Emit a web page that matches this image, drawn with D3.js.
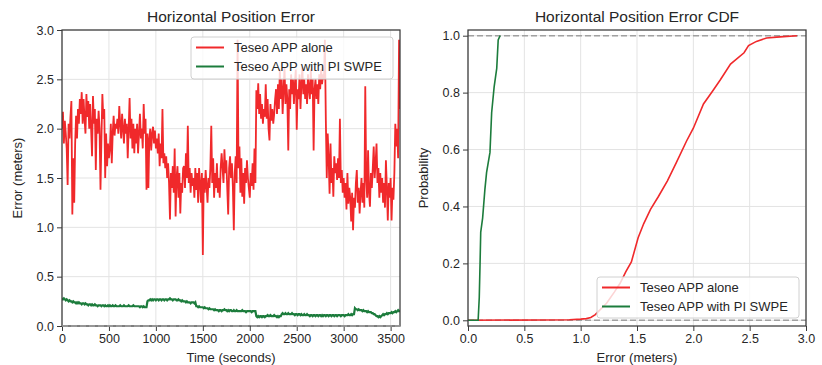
<!DOCTYPE html>
<html>
<head>
<meta charset="utf-8">
<script src="https://cdn.jsdelivr.net/npm/d3@7"></script>
<style>
  body { margin: 0; background: #fff; }
  svg text { font-family: "Liberation Sans", Arial, Helvetica, sans-serif; fill: #262626; }
</style>
</head>
<body>
<svg id="chart" width="822" height="365"></svg>
<script>
// ---- data -------------------------------------------------------------
const sampleStepSeconds = 10;

// Horizontal error, Teseo APP alone (metres), one value every 10 s from 0 to 3600 s
const errorAlone = [
  2.0, 2.17, 1.85, 2.08, 1.95, 1.8, 1.43, 2.05, 1.9, 2.12,
  2.28, 1.13, 1.7, 1.25, 1.85, 2.13, 1.9, 2.2, 2.05, 2.3,
  2.15, 2.37, 2.05, 2.3, 2.1, 1.95, 2.35, 2.12, 2.28, 2.0,
  2.25, 2.0, 1.72, 2.33, 2.05, 2.2, 1.58, 2.1, 1.95, 2.18,
  2.0, 1.38, 1.9, 2.35, 2.1, 2.2, 1.5, 1.95, 1.62, 1.85,
  1.7, 1.8, 2.05, 1.65, 1.95, 2.13, 1.93, 2.05, 2.0, 2.1,
  1.95, 2.23, 2.05, 1.9, 2.15, 2.0, 1.85, 2.1, 1.95, 2.05,
  1.7, 2.0, 2.31, 1.9, 2.1, 1.8, 2.05, 1.75, 2.0, 1.85,
  2.05, 1.75, 1.95, 2.15, 1.9, 2.0, 1.8, 2.25, 1.95, 2.1,
  1.38, 1.95, 1.4, 1.9, 2.0, 1.78, 1.95, 2.02, 1.85, 1.98,
  1.8, 1.9, 1.75, 1.95, 1.62, 1.85, 1.7, 2.2, 1.65, 1.75,
  1.6, 1.72, 1.5, 1.65, 1.45, 1.08, 1.55, 1.4, 1.62, 1.35,
  1.8, 1.11, 1.5, 1.62, 1.3, 1.55, 1.14, 1.45, 1.35, 1.6,
  1.62, 1.4, 1.75, 1.5, 2.03, 1.45, 1.6, 1.35, 1.55, 1.42,
  1.5, 1.3, 1.6, 1.38, 1.55, 1.25, 1.6, 1.45, 1.25, 1.55,
  0.72, 1.5, 1.35, 1.58, 1.42, 1.25, 1.5, 1.4, 1.6, 2.03,
  1.45, 1.7, 1.3, 1.55, 1.4, 1.65, 1.35, 1.5, 1.3, 1.6,
  1.75, 1.6, 1.45, 1.79, 1.55, 1.68, 1.4, 1.13, 1.6, 1.72,
  1.5, 1.65, 1.41, 0.97, 1.55, 1.72, 1.45, 2.9, 1.6, 1.82,
  1.35, 1.7, 1.31, 1.55, 1.24, 1.6, 1.45, 1.68, 1.5, 1.4,
  1.3, 1.55, 1.42, 1.65, 1.38, 1.8, 1.45, 2.39, 2.2, 2.46,
  2.15, 2.35, 2.1, 2.25, 2.05, 2.2, 2.12, 2.45, 2.1, 2.3,
  2.0, 1.88, 2.25, 2.08, 2.2, 2.05, 2.15, 2.3, 2.4, 2.15,
  2.45, 2.2, 2.6, 2.3, 2.5, 2.15, 2.4, 2.62, 2.25, 2.45,
  2.3, 1.78, 2.4, 2.2, 2.55, 2.35, 2.5, 2.25, 2.45, 2.6,
  1.99, 2.4, 2.3, 2.55, 2.2, 2.45, 2.62, 2.35, 2.5, 2.3,
  2.45, 2.25, 2.55, 2.4, 2.3, 2.6, 2.35, 2.5, 1.78, 2.4,
  2.5, 2.3, 2.45, 2.25, 2.55, 2.4, 2.6, 2.45, 2.55, 2.5,
  2.9, 2.09, 1.5, 1.95, 1.7, 1.34, 1.85, 1.45, 1.6, 1.31,
  1.72, 1.55, 1.65, 1.48, 1.7, 1.5, 2.1, 1.45, 1.58, 1.35,
  1.5, 1.3, 1.45, 1.18, 1.55, 1.24, 1.4, 1.3, 1.06, 1.35,
  0.97, 1.3, 1.2, 1.45, 1.58, 1.25, 1.4, 1.14, 1.35, 1.5,
  1.25, 1.45, 1.2, 2.43, 1.5, 1.3, 1.78, 1.35, 1.21, 1.55,
  1.4, 1.6, 1.82, 1.5, 1.65, 1.85, 1.45, 1.6, 1.3, 1.55,
  1.35, 1.5, 1.25, 1.45, 1.2, 1.68, 1.4, 1.07, 1.45, 1.3,
  1.5, 1.07, 1.4, 1.28, 1.55, 2.05, 1.82, 2.0, 1.7, 2.9,
  2.2
];

// Horizontal error, Teseo APP with PI SWPE (metres), same time base
const errorSwpe = [
  0.28, 0.27, 0.28, 0.27, 0.26, 0.27, 0.26, 0.25, 0.26, 0.25,
  0.25, 0.24, 0.25, 0.24, 0.24, 0.23, 0.24, 0.23, 0.24, 0.23,
  0.23, 0.22, 0.23, 0.23, 0.22, 0.23, 0.22, 0.22, 0.21, 0.22,
  0.22, 0.21, 0.22, 0.21, 0.21, 0.22, 0.21, 0.21, 0.20, 0.21,
  0.21, 0.21, 0.20, 0.21, 0.21, 0.20, 0.21, 0.20, 0.20, 0.21,
  0.20, 0.21, 0.20, 0.20, 0.21, 0.20, 0.20, 0.21, 0.20, 0.20,
  0.20, 0.20, 0.21, 0.20, 0.20, 0.20, 0.21, 0.20, 0.20, 0.20,
  0.20, 0.21, 0.20, 0.20, 0.20, 0.20, 0.21, 0.20, 0.20, 0.20,
  0.20, 0.20, 0.20, 0.19, 0.20, 0.20, 0.19, 0.20, 0.19, 0.19,
  0.19, 0.25, 0.26, 0.26, 0.27, 0.26, 0.27, 0.26, 0.27, 0.27,
  0.26, 0.27, 0.27, 0.26, 0.27, 0.27, 0.26, 0.27, 0.27, 0.26,
  0.27, 0.27, 0.26, 0.27, 0.27, 0.28, 0.27, 0.27, 0.26, 0.27,
  0.27, 0.27, 0.26, 0.26, 0.27, 0.26, 0.26, 0.25, 0.26, 0.25,
  0.25, 0.25, 0.24, 0.25, 0.24, 0.24, 0.24, 0.23, 0.24, 0.24,
  0.24, 0.23, 0.24, 0.20, 0.20, 0.19, 0.20, 0.19, 0.19, 0.19,
  0.19, 0.18, 0.19, 0.18, 0.18, 0.18, 0.17, 0.18, 0.17, 0.17,
  0.17, 0.17, 0.16, 0.17, 0.16, 0.16, 0.16, 0.15, 0.16, 0.16,
  0.15, 0.16, 0.16, 0.17, 0.16, 0.16, 0.15, 0.16, 0.15, 0.16,
  0.16, 0.15, 0.15, 0.16, 0.15, 0.15, 0.16, 0.15, 0.15, 0.15,
  0.15, 0.15, 0.16, 0.15, 0.15, 0.15, 0.14, 0.15, 0.15, 0.15,
  0.15, 0.15, 0.14, 0.15, 0.15, 0.15, 0.15, 0.10, 0.09, 0.10,
  0.09, 0.10, 0.10, 0.09, 0.10, 0.10, 0.09, 0.10, 0.10, 0.11,
  0.10, 0.10, 0.11, 0.10, 0.10, 0.10, 0.11, 0.10, 0.10, 0.09,
  0.10, 0.09, 0.10, 0.10, 0.12, 0.13, 0.12, 0.12, 0.13, 0.12,
  0.12, 0.13, 0.12, 0.12, 0.12, 0.13, 0.12, 0.12, 0.11, 0.12,
  0.12, 0.11, 0.12, 0.12, 0.11, 0.12, 0.11, 0.11, 0.12, 0.11,
  0.11, 0.12, 0.11, 0.11, 0.10, 0.11, 0.11, 0.10, 0.11, 0.11,
  0.10, 0.11, 0.11, 0.10, 0.11, 0.11, 0.10, 0.11, 0.10, 0.11,
  0.11, 0.10, 0.11, 0.11, 0.10, 0.11, 0.11, 0.10, 0.11, 0.11,
  0.10, 0.11, 0.11, 0.10, 0.11, 0.11, 0.11, 0.10, 0.11, 0.11,
  0.11, 0.10, 0.11, 0.11, 0.11, 0.12, 0.11, 0.11, 0.12, 0.11,
  0.12, 0.12, 0.18, 0.17, 0.17, 0.16, 0.17, 0.16, 0.16, 0.16,
  0.15, 0.16, 0.15, 0.15, 0.15, 0.14, 0.15, 0.14, 0.14, 0.14,
  0.13, 0.13, 0.12, 0.12, 0.11, 0.10, 0.10, 0.09, 0.10, 0.09,
  0.10, 0.11, 0.12, 0.11, 0.12, 0.12, 0.13, 0.12, 0.13, 0.13,
  0.13, 0.14, 0.13, 0.14, 0.14, 0.15, 0.14, 0.15, 0.16, 0.15,
  0.16
];

// Empirical CDF points: [error (m), cumulative probability]
const cdfAlone = [
  [0, 0], [0.9, 0.002], [1.0, 0.004], [1.05, 0.006], [1.09, 0.01], [1.13, 0.02],
  [1.18, 0.04], [1.23, 0.06], [1.3, 0.1], [1.35, 0.13], [1.4, 0.17], [1.45, 0.205],
  [1.51, 0.29], [1.56, 0.34], [1.62, 0.39], [1.69, 0.435], [1.77, 0.49], [1.85, 0.555],
  [1.94, 0.63], [2.0, 0.675], [2.09, 0.76], [2.17, 0.805], [2.24, 0.845], [2.33, 0.9],
  [2.45, 0.94], [2.49, 0.965], [2.56, 0.98], [2.65, 0.992], [2.74, 0.995], [2.92, 1.0]
];
const cdfSwpe = [
  [0, 0], [0.09, 0], [0.1, 0.08], [0.107, 0.2], [0.113, 0.31], [0.13, 0.36],
  [0.15, 0.46], [0.165, 0.52], [0.195, 0.59], [0.21, 0.73], [0.232, 0.82],
  [0.255, 0.885], [0.268, 0.985], [0.285, 1.0]
];

const seriesNames = ["Teseo APP alone", "Teseo APP with PI SWPE"];
const timeTicks = [0, 500, 1000, 1500, 2000, 2500, 3000, 3500];
const errorTicks = [0, 0.5, 1.0, 1.5, 2.0, 2.5, 3.0];
const probabilityTicks = [0, 0.2, 0.4, 0.6, 0.8, 1.0];

// ---- styling ------------------------------------------------------------
const colorAlone = "#f0292b";
const colorSwpe = "#1c7c3c";
const spineColor = "#3a3a3a";
const gridColor = "#e3e3e3";
const refLineColor = "#a0a0a0";

const svg = d3.select("#chart");

const panels = {
  left:  { x0: 62,  x1: 400, y0: 30, y1: 326 },
  right: { x0: 468, x1: 806, y0: 30, y1: 326 }
};

function drawFrame(g, p, xScale, yScale, xTicks, yTicks, xFmt, yFmt, id) {
  // grid
  const grid = g.append("g");
  grid.selectAll("line.gx").data(xTicks).join("line")
    .attr("x1", d => xScale(d)).attr("x2", d => xScale(d))
    .attr("y1", p.y0).attr("y2", p.y1)
    .attr("stroke", gridColor).attr("stroke-width", 1);
  grid.selectAll("line.gy").data(yTicks).join("line")
    .attr("y1", d => yScale(d)).attr("y2", d => yScale(d))
    .attr("x1", p.x0).attr("x2", p.x1)
    .attr("stroke", gridColor).attr("stroke-width", 1);

  // clip for the plotted lines
  svg.append("clipPath").attr("id", id)
    .append("rect").attr("x", p.x0).attr("y", p.y0)
    .attr("width", p.x1 - p.x0).attr("height", p.y1 - p.y0);

  // axes
  const xAxis = d3.axisBottom(xScale).tickValues(xTicks).tickFormat(xFmt)
    .tickSize(5).tickPadding(3);
  const yAxis = d3.axisLeft(yScale).tickValues(yTicks).tickFormat(yFmt)
    .tickSize(5).tickPadding(3);
  const gx = g.append("g").attr("transform", `translate(0,${p.y1})`).call(xAxis);
  const gy = g.append("g").attr("transform", `translate(${p.x0},0)`).call(yAxis);
  [gx, gy].forEach(a => {
    a.select(".domain").remove();
    a.selectAll(".tick line").attr("stroke", spineColor).attr("stroke-width", 1);
    a.selectAll(".tick text").attr("font-size", 12.5).attr("fill", "#262626")
      .style("font-family", '"Liberation Sans", Arial, sans-serif');
  });
}

function drawSpines(g, p) {
  g.append("rect")
    .attr("x", p.x0).attr("y", p.y0)
    .attr("width", p.x1 - p.x0).attr("height", p.y1 - p.y0)
    .attr("fill", "none").attr("stroke", spineColor).attr("stroke-width", 1.25);
}

function drawLegend(g, x, y, w, h) {
  const lg = g.append("g").attr("transform", `translate(${x},${y})`);
  lg.append("rect").attr("width", w).attr("height", h).attr("rx", 3)
    .attr("fill", "#fff").attr("fill-opacity", 0.8)
    .attr("stroke", "#d0d0d0").attr("stroke-width", 1);
  const colors = [colorAlone, colorSwpe];
  seriesNames.forEach((name, i) => {
    const cy = 10.5 + i * 19;
    lg.append("line").attr("x1", 5).attr("x2", 33).attr("y1", cy).attr("y2", cy)
      .attr("stroke", colors[i]).attr("stroke-width", 2);
    lg.append("text").attr("x", 43).attr("y", cy).attr("dy", "0.35em")
      .attr("font-size", 13).text(name);
  });
}

// ---- left panel: error over time -----------------------------------------
{
  const p = panels.left;
  const x = d3.scaleLinear().domain([0, 3600]).range([p.x0, p.x1]);
  const y = d3.scaleLinear().domain([0, 3]).range([p.y1, p.y0]);
  const g = svg.append("g");
  drawFrame(g, p, x, y, timeTicks, errorTicks, d3.format("d"), d3.format(".1f"), "clipL");

  const line = d3.line()
    .x((d, i) => x(i * sampleStepSeconds))
    .y(d => y(d));
  const lines = g.append("g").attr("clip-path", "url(#clipL)");
  lines.append("path").datum(errorAlone).attr("d", line)
    .attr("fill", "none").attr("stroke", colorAlone)
    .attr("stroke-width", 1.8).attr("stroke-linejoin", "miter");
  lines.append("path").datum(errorSwpe).attr("d", line)
    .attr("fill", "none").attr("stroke", colorSwpe).attr("stroke-width", 2.2);

  drawSpines(g, p);
  g.append("line").attr("x1", p.x0).attr("x2", p.x1).attr("y1", y(0)).attr("y2", y(0))
    .attr("stroke", refLineColor).attr("stroke-width", 1.5).attr("stroke-dasharray", "6,3");

  g.append("text").attr("x", (p.x0 + p.x1) / 2).attr("y", 22)
    .attr("text-anchor", "middle").attr("font-size", 15.5).text("Horizontal Position Error");
  g.append("text").attr("x", (p.x0 + p.x1) / 2).attr("y", 362)
    .attr("text-anchor", "middle").attr("font-size", 13).text("Time (seconds)");
  g.append("text").attr("transform", `translate(22,${(p.y0 + p.y1) / 2}) rotate(-90)`)
    .attr("text-anchor", "middle").attr("font-size", 13).text("Error (meters)");

  drawLegend(g, 191, 37, 202, 42);
}

// ---- right panel: CDF ----------------------------------------------------
{
  const p = panels.right;
  const x = d3.scaleLinear().domain([0, 3]).range([p.x0, p.x1]);
  const y = d3.scaleLinear().domain([-0.02, 1.02]).range([p.y1, p.y0]);
  const g = svg.append("g");
  drawFrame(g, p, x, y, errorTicks, probabilityTicks, d3.format(".1f"), d3.format(".1f"), "clipR");

  [0, 1].forEach(v => {
    g.append("line").attr("x1", p.x0).attr("x2", p.x1).attr("y1", y(v)).attr("y2", y(v))
      .attr("stroke", refLineColor).attr("stroke-width", 1.5).attr("stroke-dasharray", "6,3");
  });

  const line = d3.line().x(d => x(d[0])).y(d => y(d[1]));
  const lines = g.append("g").attr("clip-path", "url(#clipR)");
  lines.append("path").datum(cdfAlone).attr("d", line)
    .attr("fill", "none").attr("stroke", colorAlone).attr("stroke-width", 1.6);
  lines.append("path").datum(cdfSwpe).attr("d", line)
    .attr("fill", "none").attr("stroke", colorSwpe).attr("stroke-width", 1.6);

  drawSpines(g, p);

  g.append("text").attr("x", (p.x0 + p.x1) / 2).attr("y", 22)
    .attr("text-anchor", "middle").attr("font-size", 15.5).text("Horizontal Position Error CDF");
  g.append("text").attr("x", (p.x0 + p.x1) / 2).attr("y", 362)
    .attr("text-anchor", "middle").attr("font-size", 13).text("Error (meters)");
  g.append("text").attr("transform", `translate(428,${(p.y0 + p.y1) / 2}) rotate(-90)`)
    .attr("text-anchor", "middle").attr("font-size", 13).text("Probability");

  drawLegend(g, 597, 277, 202, 41);
}
</script>
</body>
</html>
